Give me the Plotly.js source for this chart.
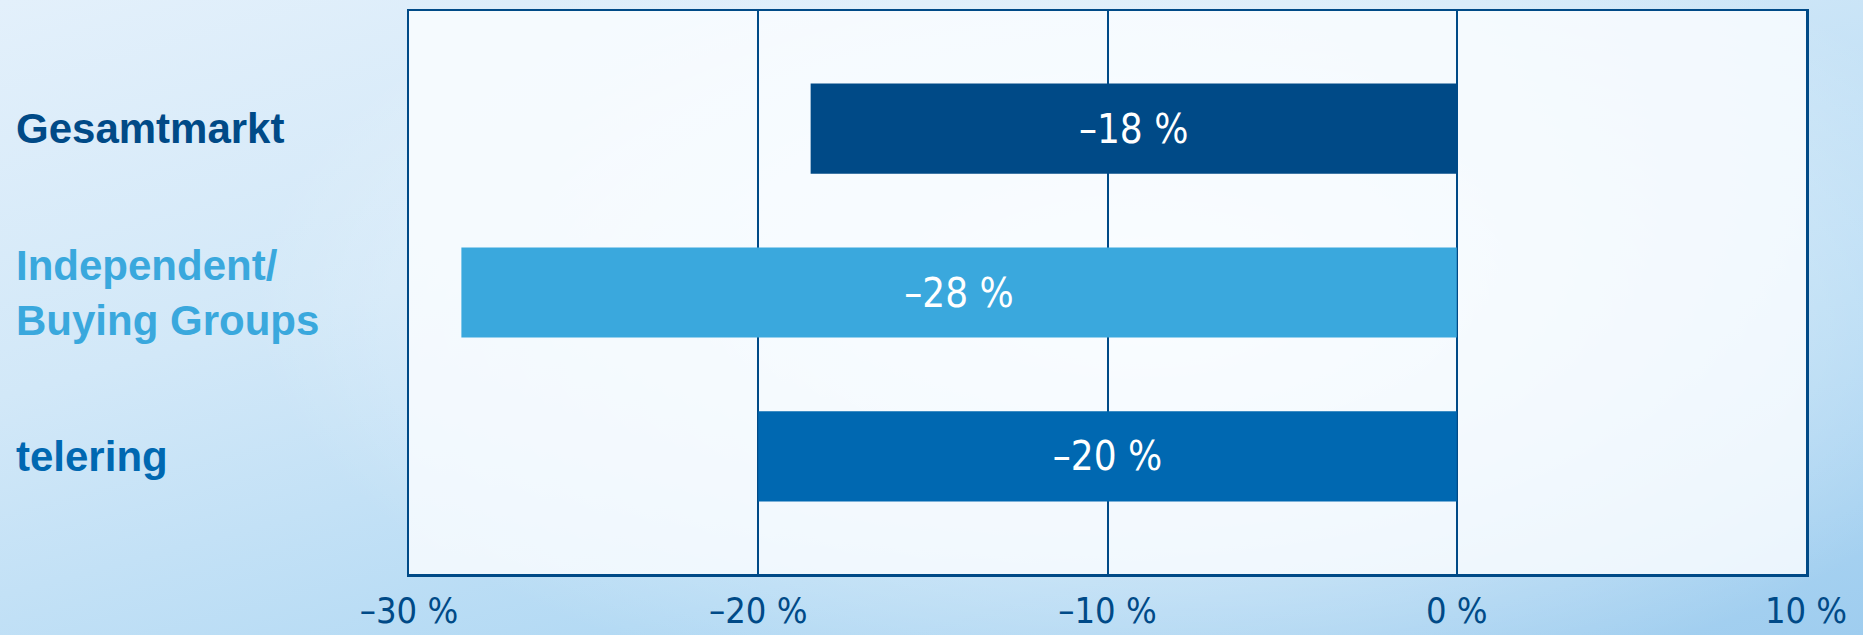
<!DOCTYPE html>
<html>
<head>
<meta charset="utf-8">
<script src="https://cdn.plot.ly/plotly-3.0.1.min.js"></script>
<style>
  html, body { margin: 0; padding: 0; }
  body {
    width: 1863px; height: 635px; overflow: hidden;
    background:
      radial-gradient(ellipse 900px 420px at 1150px 300px, rgba(255,255,255,0.85) 0%, rgba(255,255,255,0) 100%),
      linear-gradient(165deg, #e3f0fb 0%, #d2e8f8 35%, #b4daf4 70%, #9fcdef 100%);
  }
  #chart { width: 1863px; height: 635px; }
</style>
</head>
<body>
<div id="chart"></div>
<script>
const categories = ["Gesamtmarkt", "Independent/<br>Buying Groups", "telering"];
const values = [-18.5, -28.5, -20];
const valueLabels = ["–18 %", "–28 %", "–20 %"];
const barColors = ["#004a87", "#3aa8dd", "#0068b1"];
const tickValues = [-30, -20, -10, 0, 10];
const tickLabels = ["–30 %", "–20 %", "–10 %", "0 %", "10 %"];

const LABEL_FONT = "Liberation Sans, Arial, sans-serif";
const NUM_FONT = "DejaVu Sans Condensed, Liberation Sans Narrow, sans-serif";
const LINE = "#004a87";

const trace = {
  type: "bar",
  orientation: "h",
  x: values,
  y: categories,
  marker: { color: barColors, line: { width: 0 } },
  text: valueLabels,
  textposition: "inside",
  insidetextanchor: "middle",
  textangle: 0,
  textfont: { family: NUM_FONT, size: 40, color: "#ffffff" },
  hoverinfo: "skip",
  cliponaxis: false
};

const annotations = categories.map((c, i) => ({
  xref: "paper", yref: "y",
  x: -0.283, y: c,
  xanchor: "left", yanchor: "middle",
  align: "left",
  text: c,
  showarrow: false,
  font: { family: LABEL_FONT, size: 42, weight: "bold", color: barColors[i] }
}));

const layout = {
  width: 1863, height: 635,
  margin: { l: 409, r: 57, t: 11, b: 61, pad: 0 },
  paper_bgcolor: "rgba(0,0,0,0)",
  plot_bgcolor: "rgba(250,252,255,0.82)",
  showlegend: false,
  bargap: 0.45,
  xaxis: {
    range: [-30, 10],
    tickvals: tickValues,
    ticktext: tickLabels,
    tickfont: { family: NUM_FONT, size: 36, color: LINE },
    ticks: "",
    ticklabelstandoff: 3,
    showgrid: true, gridcolor: LINE, gridwidth: 2,
    zeroline: false,
    showline: true, linecolor: LINE, linewidth: 2.5, mirror: true,
    fixedrange: true
  },
  yaxis: {
    type: "category",
    categoryorder: "array",
    categoryarray: categories,
    range: [2.717, -0.717],
    showticklabels: false,
    ticks: "",
    showgrid: false,
    zeroline: false,
    showline: true, linecolor: LINE, linewidth: 2.5, mirror: true,
    fixedrange: true
  },
  annotations: annotations
};

Plotly.newPlot("chart", [trace], layout, { displayModeBar: false, staticPlot: true });
</script>
</body>
</html>
